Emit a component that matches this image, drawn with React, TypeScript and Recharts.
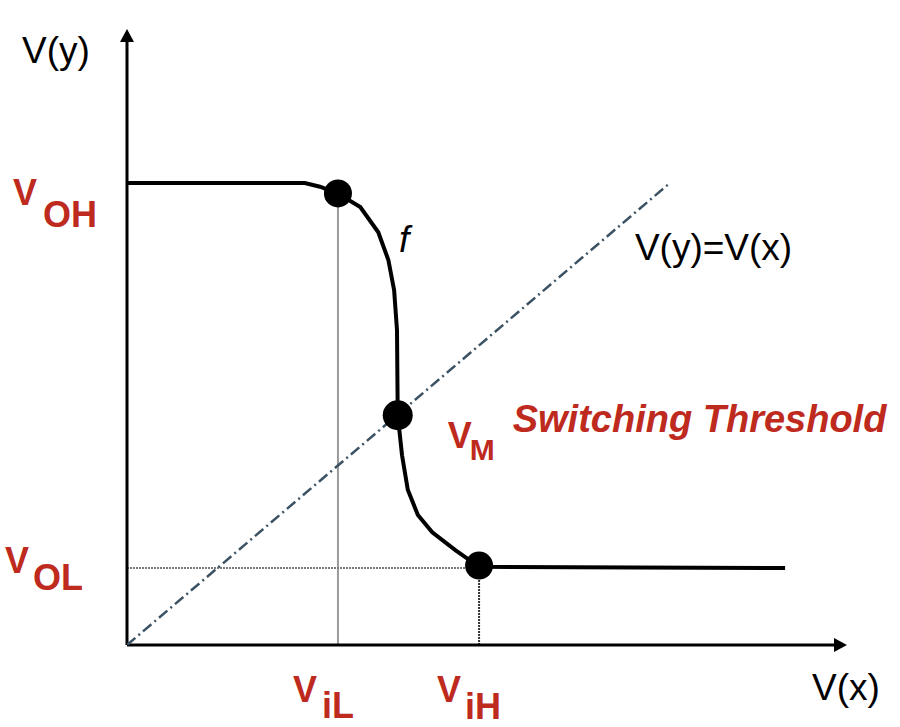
import React from 'react';
import { ComposedChart, Line, XAxis, YAxis, ReferenceLine, ReferenceDot } from 'recharts';

// Transfer characteristic f: V(y) as a function of V(x)
const curveX = [0, 2.47, 2.68, 2.93, 3.24, 3.49, 3.63, 3.71, 3.75, 3.76, 3.82, 3.9, 4.04, 4.24, 4.56, 4.89, 9.14];
const curveY = [7.5, 7.5, 7.44, 7.33, 7.11, 6.7, 6.25, 5.76, 5.11, 3.73, 3.08, 2.52, 2.11, 1.83, 1.54, 1.27, 1.25];

// Identity line V(y)=V(x)
const diagX = [0, 7.54];
const diagY = [0, 7.5];

// Key levels
const VOH = 7.5;
const VOL = 1.25;
const VIL = 2.93;
const VIH = 4.89;
const VM_X = 3.76;
const VM_Y = 3.73;
const AXIS_MAX = 10;

const curveData = curveX.map((x, i) => ({ x, y: curveY[i] }));
const diagData = diagX.map((x, i) => ({ x, y: diagY[i] }));

const RED = '#BE2A1E';
const FONT = '"Liberation Sans", Arial, sans-serif';

const ArrowUp = (p: any) => (
  <polygon points={`${p.cx},${p.cy} ${p.cx - 7},${p.cy + 13} ${p.cx + 7},${p.cy + 13}`} fill="#000" />
);
const ArrowRight = (p: any) => (
  <polygon points={`${p.cx},${p.cy} ${p.cx - 13},${p.cy - 7} ${p.cx - 13},${p.cy + 7}`} fill="#000" />
);

const BigDot = (r: number) => (p: any) => <circle cx={p.cx} cy={p.cy} r={r} fill="#000" />;

const plain = (txt: string, dx: number, dy: number, extra: any = {}) => (p: any) => (
  <text x={p.cx + dx} y={p.cy + dy} fontFamily={FONT} fontSize={37} fill="#000" {...extra}>
    {txt}
  </text>
);

const subLabel = (
  main: string,
  sub: string,
  dx: number,
  dy: number,
  sdx: number,
  sdy: number,
  subSize: number = 36
) => (p: any) => (
  <text fontFamily={FONT} fontWeight="bold" fill={RED}>
    <tspan x={p.cx + dx} y={p.cy + dy} fontSize={36}>{main}</tspan>
    <tspan x={p.cx + sdx} y={p.cy + sdy} fontSize={subSize}>{sub}</tspan>
  </text>
);

const SwitchText = (p: any) => (
  <text
    x={p.cx + 115}
    y={p.cy + 17}
    fontFamily={FONT}
    fontWeight="bold"
    fontStyle="italic"
    fontSize={38}
    fill={RED}
  >
    Switching Threshold
  </text>
);

export default function App() {
  return (
    <div style={{ position: 'absolute', left: 0, top: 0, width: 900, height: 727, background: '#fff' }}>
      <ComposedChart width={900} height={727} margin={{ top: 29, right: 53, bottom: 82, left: 127 }}>
        <XAxis type="number" dataKey="x" domain={[0, AXIS_MAX]} hide allowDataOverflow />
        <YAxis type="number" dataKey="y" domain={[0, AXIS_MAX]} hide allowDataOverflow />

        {/* guide lines */}
        <ReferenceLine segment={[{ x: VIL, y: 0 }, { x: VIL, y: VOH - 0.2 }]} stroke="#9a9a9a" strokeWidth={2} />
        <ReferenceLine segment={[{ x: 0, y: VOL }, { x: VIH, y: VOL }]} stroke="#7a7a7a" strokeWidth={2} strokeDasharray="2 1" />
        <ReferenceLine segment={[{ x: VIH, y: 0 }, { x: VIH, y: VOL }]} stroke="#333" strokeWidth={2} strokeDasharray="2 1" />

        {/* axes */}
        <ReferenceLine segment={[{ x: 0, y: 0 }, { x: AXIS_MAX - 0.17, y: 0 }]} stroke="#000" strokeWidth={3} />
        <ReferenceLine segment={[{ x: 0, y: 0 }, { x: 0, y: AXIS_MAX - 0.2 }]} stroke="#000" strokeWidth={3} />
        <ReferenceDot x={AXIS_MAX} y={0} r={1} shape={ArrowRight} />
        <ReferenceDot x={0} y={AXIS_MAX} r={1} shape={ArrowUp} />

        {/* identity line */}
        <Line
          data={diagData}
          dataKey="y"
          type="linear"
          stroke="#3A5263"
          strokeWidth={2.5}
          strokeDasharray="11 4 2 4"
          dot={false}
          isAnimationActive={false}
        />

        {/* transfer curve */}
        <Line
          data={curveData}
          dataKey="y"
          type="linear"
          stroke="#000"
          strokeWidth={4}
          dot={false}
          isAnimationActive={false}
        />

        {/* key points */}
        <ReferenceDot x={VIL} y={7.33} r={14} shape={BigDot(14)} />
        <ReferenceDot x={VM_X} y={VM_Y} r={15} shape={BigDot(15)} />
        <ReferenceDot x={VIH} y={1.29} r={14} shape={BigDot(14)} />

        {/* texts */}
        <ReferenceDot x={0} y={AXIS_MAX} r={1} shape={plain('V(y)', -105, 34)} />
        <ReferenceDot x={AXIS_MAX} y={0} r={1} shape={plain('V(x)', -35, 55)} />
        <ReferenceDot x={diagX[1]} y={diagY[1]} r={1} shape={plain('V(y)=V(x)', -35, 77)} />
        <ReferenceDot x={VIL} y={VOH} r={1} shape={plain('f', 61, 69, { fontStyle: 'italic', fontSize: 37 })} />
        <ReferenceDot x={0} y={VOH} r={1} shape={subLabel('V', 'OH', -114, 22, -84, 44)} />
        <ReferenceDot x={0} y={VOL} r={1} shape={subLabel('V', 'OL', -122, 5, -94, 22)} />
        <ReferenceDot x={VIL} y={0} r={1} shape={subLabel('V', 'iL', -45, 57, -16, 73)} />
        <ReferenceDot x={VIH} y={0} r={1} shape={subLabel('V', 'iH', -42, 57, -14, 74)} />
        <ReferenceDot x={VM_X} y={VM_Y} r={1} shape={subLabel('V', 'M', 50, 33, 72, 45, 30)} />
        <ReferenceDot x={VM_X} y={VM_Y} r={1} shape={SwitchText} />
      </ComposedChart>
    </div>
  );
}
